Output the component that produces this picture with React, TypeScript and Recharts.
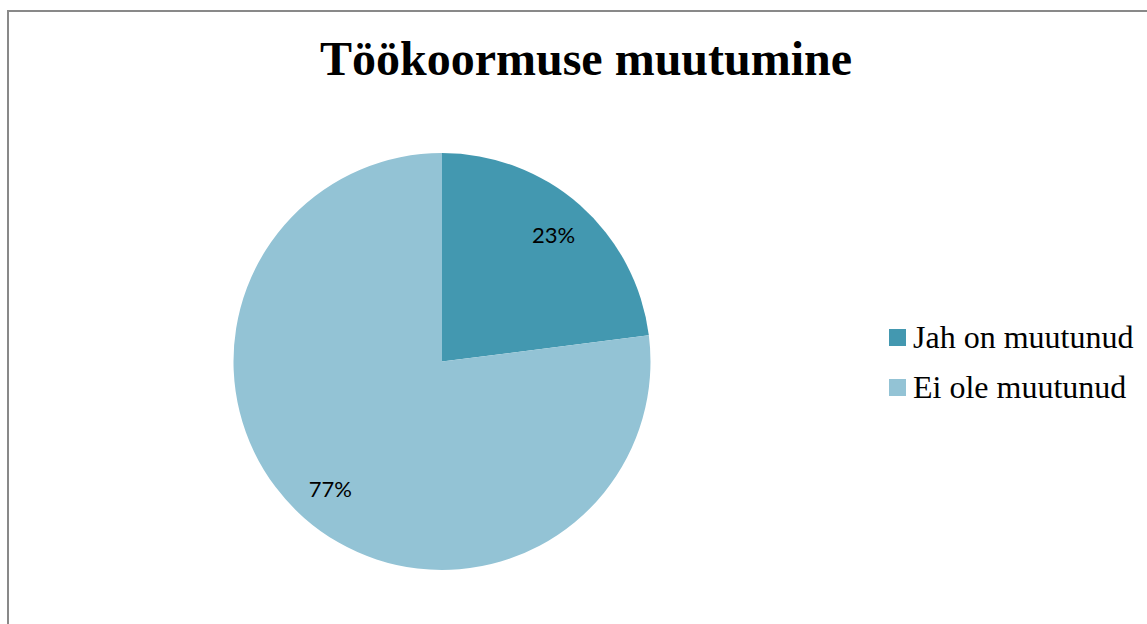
import React from "react";
import { PieChart, Pie, Cell, Legend } from "recharts";

const categories = ["Jah on muutunud", "Ei ole muutunud"];
const values = [23, 77];
const colors = ["#4398B0", "#93C3D5"];
const title = "Töökoormuse muutumine";

const data = categories.map((name, i) => ({ name, value: values[i] }));

const RAD = Math.PI / 180;

const renderLabel = (props: any) => {
  const { cx, cy, midAngle, outerRadius, value } = props;
  const r = outerRadius * 0.81;
  const x = cx + r * Math.cos(-midAngle * RAD);
  const y = cy + r * Math.sin(-midAngle * RAD);
  return (
    <text
      x={x}
      y={y}
      fill="#000"
      textAnchor="middle"
      dominantBaseline="central"
      fontFamily="Lato, 'Open Sans', sans-serif"
      fontSize={22}
    >
      {`${value}%`}
    </text>
  );
};

const renderLegend = () => (
  <div>
    {data.map((d, i) => (
      <div
        key={d.name}
        style={{
          display: "flex",
          alignItems: "center",
          height: 50,
          fontFamily: "'Liberation Serif', 'Times New Roman', serif",
          fontSize: 32,
          color: "#000",
          whiteSpace: "nowrap",
        }}
      >
        <span
          style={{
            display: "inline-block",
            flexShrink: 0,
            width: 17,
            height: 17,
            background: colors[i],
            marginRight: 7,
          }}
        />
        <span>{d.name}</span>
      </div>
    ))}
  </div>
);

export default function App() {
  return (
    <div
      style={{
        position: "fixed",
        left: 0,
        top: 0,
        width: 1147,
        height: 624,
        overflow: "hidden",
        background: "#fff",
      }}
    >
      <div
        style={{
          position: "absolute",
          left: 7,
          top: 10,
          width: 1200,
          height: 700,
          border: "2px solid #898989",
          boxSizing: "border-box",
        }}
      >
        <div
          style={{
            position: "absolute",
            left: 0,
            top: 17,
            width: 1154,
            textAlign: "center",
            fontFamily: "'Liberation Serif', 'Times New Roman', serif",
            fontWeight: "bold",
            fontSize: 48,
            lineHeight: "60px",
            color: "#000",
            zIndex: 2,
          }}
        >
          {title}
        </div>
        <div style={{ position: "absolute", left: 0, top: 0 }}>
          <PieChart
            width={1138}
            height={612}
            margin={{ top: 0, right: 0, bottom: 0, left: 0 }}
          >
            <Pie
              data={data}
              dataKey="value"
              nameKey="name"
              cx={433}
              cy={349.5}
              outerRadius={208.5}
              startAngle={90}
              endAngle={-270}
              stroke="none"
              label={renderLabel}
              labelLine={false}
              isAnimationActive={false}
            >
              {data.map((d, i) => (
                <Cell key={d.name} fill={colors[i]} />
              ))}
            </Pie>
            <Legend
              layout="vertical"
              verticalAlign="top"
              align="right"
              content={renderLegend}
              wrapperStyle={{ left: 880, top: 300, width: 300, right: "auto" }}
            />
          </PieChart>
        </div>
      </div>
    </div>
  );
}
